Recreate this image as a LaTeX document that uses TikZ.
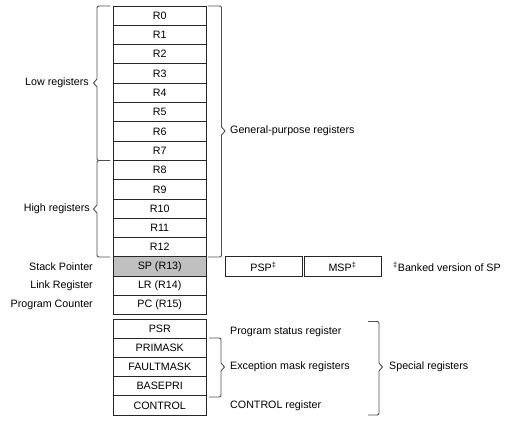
\documentclass[tikz,border=0pt]{standalone}
\usepackage{fontspec}
\setmainfont{Liberation Sans}
\definecolor{spgray}{RGB}{192,192,192}
\definecolor{brcol}{RGB}{80,80,80}
\newcommand\BraceLeft[5]{% x end, x vertical, top, mid, bottom
  \draw[brc] (#1,#3) -- ({#2+4},#3) .. controls (#2,#3) .. (#2,{#3+4}) -- (#2,{#4-4}) -- ({#2-3.5},#4) -- (#2,{#4+4}) -- (#2,{#5-4}) .. controls (#2,#5) .. ({#2+4},#5) -- (#1,#5);}
\newcommand\BraceRight[5]{% x end, x vertical, top, mid, bottom
  \draw[brc] (#1,#3) -- ({#2-4},#3) .. controls (#2,#3) .. (#2,{#3+4}) -- (#2,{#4-4}) -- ({#2+3.5},#4) -- (#2,{#4+4}) -- (#2,{#5-4}) .. controls (#2,#5) .. ({#2-4},#5) -- (#1,#5);}
\begin{document}
\begin{tikzpicture}[x=1pt,y=-1pt,
  txt/.style={font=\fontsize{10.7}{12.8}\selectfont, inner sep=0pt, text=black},
  reg/.style={txt, draw=black!85, line width=0.8pt, minimum width=93.5pt, minimum height=19.3pt},
  sreg/.style={reg, minimum height=19.2pt},
  bank/.style={reg, minimum width=77pt, minimum height=20pt},
  brc/.style={draw=brcol, line width=0.9pt}]
\useasboundingbox (0,0) rectangle (517,438);
% general-purpose registers
\foreach \i in {0,...,12}
  \node[reg] (R\i) at (159.75,{6+19.3*(\i+0.5)}) {R\i};
\node[reg, fill=spgray] (SP) at (159.75,266.55) {SP (R13)};
\node[reg] (LR) at (159.75,285.85) {LR (R14)};
\node[reg] (PC) at (159.75,305.15) {PC (R15)};
% special registers
\node[sreg] (PSR) at (159.75,328.6) {PSR};
\node[sreg] (PRIMASK) at (159.75,347.8) {PRIMASK};
\node[sreg] (FAULTMASK) at (159.75,367) {FAULTMASK};
\node[sreg] (BASEPRI) at (159.75,386.2) {BASEPRI};
\node[sreg] (CONTROL) at (159.75,405.4) {CONTROL};
% banked SP
\node[bank] (PSP) at (263.5,266.7) {PSP\textsuperscript{‡}};
\node[bank] (MSP) at (342.5,266.7) {MSP\textsuperscript{‡}};
\node[txt, anchor=west] (bank) at (393,266.7) {\textsuperscript{‡}Banked version of SP};
% left labels
\node[txt, anchor=east] (low) at (89,83) {Low registers};
\node[txt, anchor=east] (high) at (90,209) {High registers};
\node[txt, anchor=east] (spl) at (93,266.5) {Stack Pointer};
\node[txt, anchor=east] (lrl) at (93,285.8) {Link Register};
\node[txt, anchor=east] (pcl) at (93,305) {Program Counter};
% right labels
\node[txt, anchor=west] (gp) at (230,131) {General-purpose registers};
\node[txt, anchor=west] (psrl) at (230,332) {Program status register};
\node[txt, anchor=west] (exl) at (230,367) {Exception mask registers};
\node[txt, anchor=west] (ctl) at (230,405.7) {CONTROL register};
\node[txt, anchor=west] (spec) at (389,367) {Special registers};
% braces
\BraceLeft{110}{97}{6}{83}{160.5}
\BraceLeft{110}{97}{160.5}{209}{257}
\BraceRight{208}{221.5}{6}{131}{257}
\BraceRight{209}{221}{338}{367}{397}
\BraceRight{368}{379}{321.5}{367}{415}
\end{tikzpicture}
\end{document}
